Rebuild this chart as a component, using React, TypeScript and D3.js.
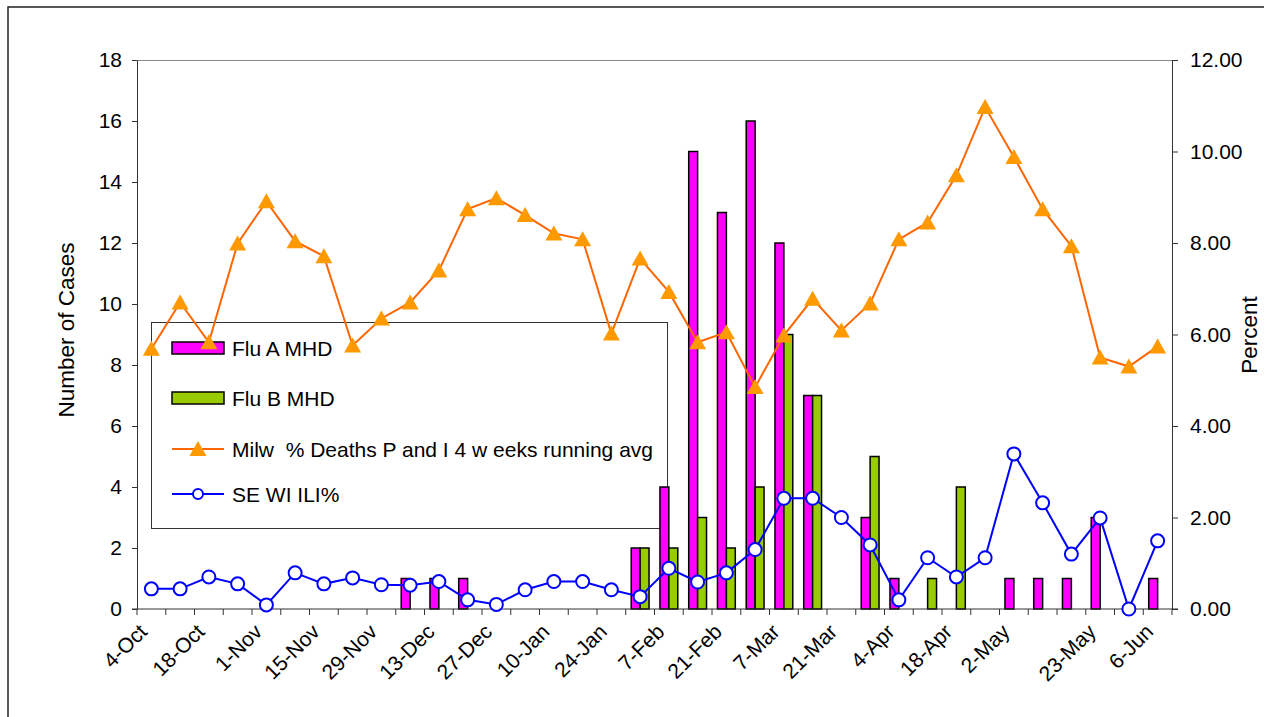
import React, { useEffect, useRef } from 'react';
import * as d3 from 'd3';

const categories = [
  '4-Oct', '11-Oct', '18-Oct', '25-Oct', '1-Nov', '8-Nov', '15-Nov', '22-Nov', '29-Nov',
  '6-Dec', '13-Dec', '20-Dec', '27-Dec', '3-Jan', '10-Jan', '17-Jan', '24-Jan', '31-Jan',
  '7-Feb', '14-Feb', '21-Feb', '28-Feb', '7-Mar', '14-Mar', '21-Mar', '28-Mar', '4-Apr',
  '11-Apr', '18-Apr', '25-Apr', '2-May', '9-May', '16-May', '23-May', '30-May', '6-Jun',
];

// labels Excel actually printed under the axis
const tickLabels = [
  '4-Oct', '18-Oct', '1-Nov', '15-Nov', '29-Nov', '13-Dec', '27-Dec', '10-Jan', '24-Jan',
  '7-Feb', '21-Feb', '7-Mar', '21-Mar', '4-Apr', '18-Apr', '2-May', '23-May', '6-Jun',
];

const fluA = [0, 0, 0, 0, 0, 0, 0, 0, 0, 1, 1, 1, 0, 0, 0, 0, 0, 2, 4, 15, 13, 16, 12, 7, 0, 3, 1, 0, 0, 0, 1, 1, 1, 3, 0, 1];
const fluB = [0, 0, 0, 0, 0, 0, 0, 0, 0, 0, 0, 0, 0, 0, 0, 0, 0, 2, 2, 3, 2, 4, 9, 7, 0, 5, 0, 1, 4, 0, 0, 0, 0, 0, 0, 0];
const milwDeaths = [
  5.69, 6.7, 5.83, 7.99, 8.91, 8.04, 7.71, 5.76, 6.35, 6.7, 7.4, 8.74, 8.98, 8.61, 8.21, 8.08, 6.02, 7.66,
  6.93, 5.83, 6.05, 4.85, 5.98, 6.78, 6.09, 6.68, 8.08, 8.45, 9.48, 10.97, 9.88, 8.74, 7.93, 5.5, 5.3, 5.74,
];
const seWiIli = [
  0.44, 0.44, 0.7, 0.55, 0.09, 0.79, 0.55, 0.68, 0.53, 0.52, 0.6, 0.2, 0.1, 0.42, 0.6, 0.6, 0.42, 0.27,
  0.89, 0.59, 0.79, 1.3, 2.42, 2.42, 2.0, 1.4, 0.2, 1.12, 0.7, 1.12, 3.39, 2.32, 1.2, 1.99, 0.0, 1.49,
];

const leftTicks = [0, 2, 4, 6, 8, 10, 12, 14, 16, 18];
const rightTicks = [0, 2, 4, 6, 8, 10, 12];

const FONT = 'Arial, "Liberation Sans", sans-serif';
const TRI = 'M0,-8L8.5,7L-8.5,7Z';

const App: React.FC = () => {
  const svgRef = useRef<SVGSVGElement | null>(null);

  useEffect(() => {
    if (!svgRef.current) return;
    const svg = d3.select(svgRef.current);
    svg.selectAll('*').remove();

    const plot = { left: 137, right: 1172, top: 60, bottom: 609 };

    const x = d3.scaleBand().domain(categories).range([plot.left, plot.right]).padding(0);
    const bw = x.bandwidth();
    const groupW = bw * 0.62;
    const xSub = d3
      .scaleBand()
      .domain(['A', 'B'])
      .range([(bw - groupW) / 2, (bw + groupW) / 2]);
    const yLeft = d3.scaleLinear().domain([0, 18]).range([plot.bottom, plot.top]);
    const yRight = d3.scaleLinear().domain([0, 12]).range([plot.bottom, plot.top]);
    const cx = (i: number) => (x(categories[i]) as number) + bw / 2;

    // outer chart frame (runs off the page on the right and bottom)
    svg
      .append('rect')
      .attr('x', 8)
      .attr('y', 7)
      .attr('width', 1300)
      .attr('height', 760)
      .attr('fill', 'white')
      .attr('stroke', '#222')
      .attr('stroke-width', 1.5);

    // plot area top border
    svg
      .append('line')
      .attr('x1', plot.left)
      .attr('x2', plot.right)
      .attr('y1', plot.top + 0.5)
      .attr('y2', plot.top + 0.5)
      .attr('stroke', '#888');

    // legend (transparent, sits under the series)
    const lg = svg.append('g');
    lg.append('rect')
      .attr('x', 151.5)
      .attr('y', 322.5)
      .attr('width', 516)
      .attr('height', 206)
      .attr('fill', 'none')
      .attr('stroke', '#333');
    const rows = [348, 398, 449, 494];
    const names = ['Flu A MHD', 'Flu B MHD', 'Milw  % Deaths P and I 4 w eeks running avg', 'SE WI ILI%'];
    [['#FF00FF', 0], ['#99CC00', 1]].forEach(([c, r]) => {
      lg.append('rect')
        .attr('x', 172)
        .attr('y', rows[r as number] - 6)
        .attr('width', 52)
        .attr('height', 12)
        .attr('fill', c as string)
        .attr('stroke', '#000')
        .attr('stroke-width', 1.5);
    });
    lg.append('line').attr('x1', 172).attr('x2', 224).attr('y1', rows[2]).attr('y2', rows[2])
      .attr('stroke', '#FF6600').attr('stroke-width', 2);
    lg.append('path').attr('d', TRI).attr('transform', `translate(198,${rows[2]})`).attr('fill', '#FF9900');
    lg.append('line').attr('x1', 172).attr('x2', 224).attr('y1', rows[3]).attr('y2', rows[3])
      .attr('stroke', '#0000FF').attr('stroke-width', 2);
    lg.append('circle').attr('cx', 198).attr('cy', rows[3]).attr('r', 5)
      .attr('fill', 'white').attr('stroke', '#0000FF').attr('stroke-width', 2);
    lg.selectAll('text.lg')
      .data(names)
      .enter()
      .append('text')
      .attr('class', 'lg')
      .attr('x', 232)
      .attr('y', (_d, i) => rows[i])
      .attr('dy', '0.36em')
      .attr('font-family', FONT)
      .attr('font-size', 21)
      .style('white-space', 'pre')
      .text((d) => d);

    // bars
    const barData = categories.flatMap((c, i) => [
      { c, key: 'A', v: fluA[i], fill: '#FF00FF' },
      { c, key: 'B', v: fluB[i], fill: '#99CC00' },
    ]).filter((d) => d.v > 0);
    svg
      .selectAll('.bar')
      .data(barData)
      .enter()
      .append('rect')
      .attr('class', 'bar')
      .attr('x', (d) => (x(d.c) as number) + (xSub(d.key) as number))
      .attr('y', (d) => yLeft(d.v))
      .attr('width', xSub.bandwidth())
      .attr('height', (d) => yLeft(0) - yLeft(d.v))
      .attr('fill', (d) => d.fill)
      .attr('stroke', '#000')
      .attr('stroke-width', 1.5);

    // axes
    const axisStyle = (g: d3.Selection<SVGGElement, unknown, null, undefined>) => {
      g.selectAll('path, line').attr('stroke', '#333');
      g.selectAll('text').attr('font-family', FONT).attr('font-size', 21).attr('fill', '#000');
    };
    svg
      .append('g')
      .attr('transform', `translate(${plot.left},0)`)
      .call(d3.axisLeft(yLeft).tickValues(leftTicks).tickSize(5).tickSizeOuter(0).tickPadding(10))
      .call(axisStyle);
    svg
      .append('g')
      .attr('transform', `translate(${plot.right},0)`)
      .call(
        d3.axisRight(yRight).tickValues(rightTicks).tickSize(6).tickSizeOuter(0).tickPadding(12)
          .tickFormat(d3.format('.2f'))
      )
      .call(axisStyle);

    // category axis
    svg
      .append('line')
      .attr('x1', plot.left - 5)
      .attr('x2', plot.right + 6)
      .attr('y1', plot.bottom)
      .attr('y2', plot.bottom)
      .attr('stroke', '#333');
    svg
      .selectAll('.xtick')
      .data(d3.range(categories.length + 1))
      .enter()
      .append('line')
      .attr('class', 'xtick')
      .attr('x1', (i) => plot.left + i * x.step())
      .attr('x2', (i) => plot.left + i * x.step())
      .attr('y1', plot.bottom)
      .attr('y2', plot.bottom + 6)
      .attr('stroke', '#333');
    svg
      .selectAll('.xlabel')
      .data(categories.map((c, i) => ({ c, i })).filter((d) => tickLabels.includes(d.c)))
      .enter()
      .append('text')
      .attr('class', 'xlabel')
      .attr('transform', (d) => `translate(${cx(d.i) - 3},${plot.bottom + 24}) rotate(-45)`)
      .attr('text-anchor', 'end')
      .attr('font-family', FONT)
      .attr('font-size', 21)
      .text((d) => d.c);

    // axis titles
    svg
      .append('text')
      .attr('transform', `translate(74,330) rotate(-90)`)
      .attr('text-anchor', 'middle')
      .attr('font-family', FONT)
      .attr('font-size', 22.5)
      .text('Number of Cases');
    svg
      .append('text')
      .attr('transform', `translate(1257,335) rotate(-90)`)
      .attr('text-anchor', 'middle')
      .attr('font-family', FONT)
      .attr('font-size', 22.5)
      .text('Percent');

    // lines
    const line = (vals: number[]) =>
      d3
        .line<number>()
        .x((_d, i) => cx(i))
        .y((d) => yRight(d))(vals);

    svg.append('path').attr('d', line(milwDeaths)).attr('fill', 'none')
      .attr('stroke', '#FF6600').attr('stroke-width', 2);
    svg
      .selectAll('.tri')
      .data(milwDeaths)
      .enter()
      .append('path')
      .attr('class', 'tri')
      .attr('d', TRI)
      .attr('transform', (d, i) => `translate(${cx(i)},${yRight(d)})`)
      .attr('fill', '#FF9900');

    svg.append('path').attr('d', line(seWiIli)).attr('fill', 'none')
      .attr('stroke', '#0000FF').attr('stroke-width', 2);
    svg
      .selectAll('.dot')
      .data(seWiIli)
      .enter()
      .append('circle')
      .attr('class', 'dot')
      .attr('cx', (_d, i) => cx(i))
      .attr('cy', (d) => yRight(d))
      .attr('r', 6.5)
      .attr('fill', 'white')
      .attr('stroke', '#0000FF')
      .attr('stroke-width', 2);
  }, []);

  return (
    <svg
      ref={svgRef}
      width={1264}
      height={717}
      style={{ position: 'absolute', left: 0, top: 0, display: 'block' }}
    ></svg>
  );
};

export default App;
